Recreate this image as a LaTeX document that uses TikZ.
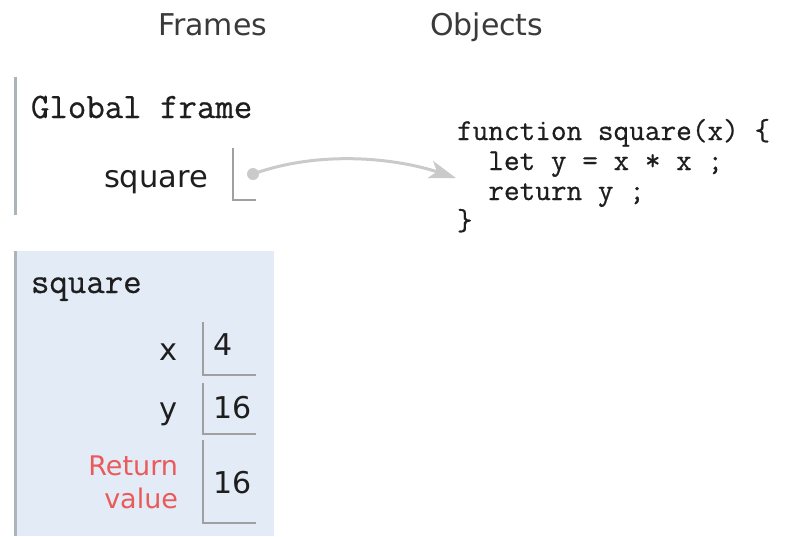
\documentclass[tikz,border=0pt]{standalone}
\usepackage{fontspec}
\setmainfont{DejaVu Sans}
\newfontfamily\monof[FakeBold=0.6]{Latin Modern Mono}
\usetikzlibrary{arrows.meta}
\definecolor{hdrcol}{HTML}{3A3A3A}
\definecolor{txtcol}{HTML}{1E1E1E}
\definecolor{framebg}{HTML}{E2EBF6}
\definecolor{framebar}{HTML}{A9B5BB}
\definecolor{boxline}{HTML}{A0A0A0}
\definecolor{ptrcol}{HTML}{CACACA}
\definecolor{retcol}{HTML}{EB5A5A}
\tikzset{
  txt/.style={inner sep=0pt, outer sep=0pt, text=txtcol},
  hdr/.style={txt, text=hdrcol, font=\fontsize{30}{36}\selectfont},
  framename/.style={txt, font=\monof\fontsize{35.8}{40}\selectfont},
  varname/.style={txt, font=\fontsize{30.5}{36}\selectfont, anchor=base east},
  retname/.style={txt, text=retcol, font=\fontsize{27}{32}\selectfont, anchor=base east},
  varval/.style={txt, font=\fontsize{30}{36}\selectfont, anchor=base west},
  codeline/.style={txt, font=\monof\fontsize{30.4}{34}\selectfont, anchor=base west},
  valbox/.style={draw=boxline, line width=1.5pt},
  bar/.style={draw=framebar, line width=3pt},
  ptr/.style={draw=ptrcol, line width=3pt, -{Stealth[length=27pt, width=18pt, inset=7pt]}},
  ptrdot/.style={circle, fill=ptrcol, inner sep=0pt, minimum size=12pt}
}
\begin{document}
\begin{tikzpicture}[x=1pt, y=-1pt]
\useasboundingbox (0,0) rectangle (794,536);
% headers
\node[hdr, anchor=base west] (hframes) at (158,35) {Frames};
\node[hdr, anchor=base west] (hobjects) at (430,35) {Objects};
% global frame
\draw[bar] (15,77) -- (15,215);
\node[framename, anchor=base west] (gtitle) at (31,118) {Global\ frame};
\node[varname] (gsq) at (208,187) {square};
\draw[valbox] (233,148) -- (233,200) -- (256,200);
% code object
\node[codeline] (c1) at (457,140) {function\ square(x)\ \{};
\node[codeline] (c2) at (457,170) {\ \ let\ y\ =\ x\ *\ x\ ;};
\node[codeline] (c3) at (457,200) {\ \ return\ y\ ;};
\node[codeline] (c4) at (457,230) {\}};
\coordinate (tip) at (456,178);
% pointer
\node[ptrdot] (dot) at (253,174) {};
\draw[ptr] (dot.center) .. controls (320,150) and (395,158) .. (tip);
% square frame
\fill[framebg] (14,251) rectangle (274,536);
\draw[bar] (15,251) -- (15,536);
\node[framename, anchor=base west] (stitle) at (31,293) {square};
\node[varname] (lx) at (178,360) {x};
\draw[valbox] (203,322) -- (203,375) -- (256,375);
\node[varval] (vx) at (213,355) {4};
\node[varname] (ly) at (178,419) {y};
\draw[valbox] (203,383) -- (203,434) -- (256,434);
\node[varval] (vy) at (213,418) {16};
\node[retname] (lr1) at (178,475) {Return};
\node[retname] (lr2) at (178,508) {value};
\draw[valbox] (203,440) -- (203,523) -- (256,523);
\node[varval] (vr) at (213,493) {16};
\end{tikzpicture}
\end{document}
